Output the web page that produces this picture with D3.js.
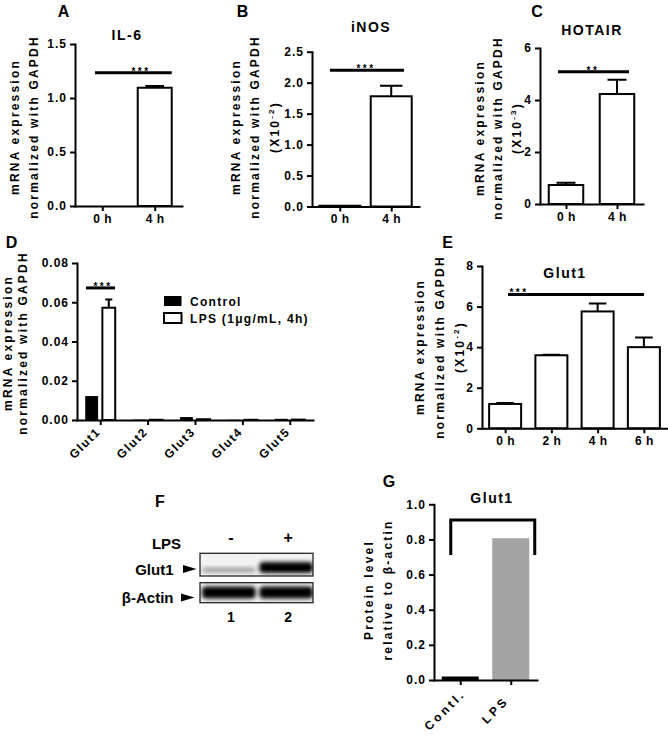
<!DOCTYPE html>
<html><head><meta charset="utf-8">
<script src="https://cdn.jsdelivr.net/npm/d3@7"></script>
<style>
body{margin:0;background:#fff}
svg text{font-family:"Liberation Sans",Arial,sans-serif;font-weight:bold;fill:#000}
</style></head><body>
<svg id="c" width="668" height="739"></svg>
<script>
// ---------------- DATA ----------------
const timeCats2 = ["0 h", "4 h"];
const il6Values = [0.0, 1.095];
const il6Errors = [0, 0.015];
const inosValues = [0.012, 1.78];
const inosErrors = [0, 0.17];
const hotairValues = [0.73, 4.23];
const hotairErrors = [0.09, 0.55];

const glutCats = ["Glut1", "Glut2", "Glut3", "Glut4", "Glut5"];
const seriesNames = ["Control", "LPS (1μg/mL, 4h)"];
const controlValues = [0.0122, 0.0002, 0.0015, 0.0001, 0.0006];
const lpsValues = [0.0572, 0.0001, 0.0004, 0.0001, 0.0002];
const lpsErrors = [0.0042, 0, 0, 0, 0];

const timeCats4 = ["0 h", "2 h", "4 h", "6 h"];
const glut1TimeValues = [1.2, 3.6, 5.76, 4.0];
const glut1TimeErrors = [0.05, 0.02, 0.39, 0.47];

const proteinCats = ["Contl.", "LPS"];
const proteinValues = [0.02, 0.807];

const blotLaneSigns = ["-", "+"];
const blotLaneNumbers = ["1", "2"];
const glut1BandIntensity = [0.35, 1.0];
const actinBandIntensity = [1.0, 1.0];

const ticksA = [0, 0.5, 1.0, 1.5];
const ticksB = [0, 0.5, 1.0, 1.5, 2.0, 2.5];
const ticksC = [0, 2, 4, 6];
const ticksD = [0, 0.02, 0.04, 0.06, 0.08];
const ticksE = [0, 2, 4, 6, 8];
const ticksG = [0, 0.2, 0.4, 0.6, 0.8, 1.0];

// ---------------- DRAW ----------------
const svg = d3.select("#c");
svg.append("rect").attr("width", 668).attr("height", 739).attr("fill", "#fff");
const FONT = '"Liberation Sans",Arial,sans-serif';

function txt(x, y, s, size, opts = {}) {
  const t = svg.append("text").attr("x", x).attr("y", y).text(s)
    .attr("font-size", size).attr("text-anchor", opts.anchor || "middle");
  if (opts.ls) t.style("letter-spacing", opts.ls + "px");
  if (opts.dy) t.attr("dy", opts.dy);
  return t;
}

function styleAxis(a, ls) {
  a.attr("font-family", null).attr("font-size", null);
  a.select(".domain").attr("stroke", "#000").attr("stroke-width", 2).attr("stroke-linecap", "square");
  a.selectAll(".tick line").attr("stroke", "#000").attr("stroke-width", 2);
  a.selectAll(".tick text").attr("font-size", 12).attr("fill", "#000")
    .style("letter-spacing", (ls == null ? 1 : ls) + "px");
}

function panel(o) {
  const x = d3.scalePoint().domain(o.cats).range([o.x0, o.x1]).padding(o.pad);
  const y = d3.scaleLinear().domain([0, o.max]).range([o.yB, o.yT]);
  const g = svg.append("g");
  const marks = g.append("g");
  const ya = g.append("g").attr("transform", `translate(${o.x0},0)`)
    .call(d3.axisLeft(y).tickValues(o.ticks).tickFormat(o.fmt).tickSize(5).tickSizeOuter(0).tickPadding(3));
  styleAxis(ya, 1);
  const xa = g.append("g").attr("transform", `translate(0,${o.yB})`)
    .call(d3.axisBottom(x).tickSize(5).tickSizeOuter(0).tickPadding(3));
  styleAxis(xa, o.xls == null ? 0.5 : o.xls);
  return { x, y, marks, xa };
}

function bars(p, cats, vals, errs, bw, offset, fill, stroke) {
  const data = cats.map((c, i) => ({ c, v: vals[i], e: errs ? errs[i] : 0 }));
  p.marks.selectAll(null).data(data.filter(d => d.v > 0)).join("rect")
    .attr("x", d => p.x(d.c) + offset - bw / 2)
    .attr("y", d => p.y(d.v))
    .attr("width", bw)
    .attr("height", d => p.y(0) - p.y(d.v))
    .attr("fill", fill)
    .attr("stroke", stroke || "none")
    .attr("stroke-width", stroke ? 2 : 0);
  const ed = data.filter(d => d.e > 0);
  const cap = bw * 0.55;
  p.marks.selectAll(null).data(ed).join("path")
    .attr("d", d => {
      const cx = p.x(d.c) + offset, y1 = p.y(d.v), y2 = p.y(d.v + d.e);
      return `M${cx},${y1}V${y2}M${cx - cap / 2},${y2}H${cx + cap / 2}`;
    })
    .attr("stroke", "#000").attr("stroke-width", 2).attr("fill", "none");
}

function sig(p, x1, x2, yv, stars, sx) {
  const yy = p.y(yv);
  p.marks.append("line").attr("x1", x1).attr("x2", x2).attr("y1", yy).attr("y2", yy)
    .attr("stroke", "#000").attr("stroke-width", 3);
  txt(sx, yy + 2, stars, 10, { ls: 2.5 });
}

function yLabel(lines, xs, cy) {
  lines.forEach((l, i) => {
    const t = svg.append("text")
      .attr("transform", `translate(${xs[i]},${cy}) rotate(-90)`)
      .attr("text-anchor", "middle").attr("dy", "0.35em")
      .attr("font-size", 12).style("letter-spacing", "2.2px");
    if (typeof l === "string") t.text(l);
    else {
      t.append("tspan").text(l[0]);
      t.append("tspan").text(l[1]).attr("font-size", 8).attr("dy", -5);
      t.append("tspan").text(l[2]).attr("dy", 5);
    }
  });
}

const f1 = d3.format(".1f"), f2 = d3.format(".2f"), fd = d3.format("d");

// ---- Panel A ----
txt(63.5, 16.7, "A", 16);
txt(127, 40, "IL-6", 14, { ls: 1.5 });
const pA = panel({ cats: timeCats2, x0: 75, x1: 182, pad: 0.52, yB: 206, yT: 44, max: 1.5, ticks: ticksA, fmt: f1 });
bars(pA, timeCats2, il6Values, il6Errors, 34, 0, "#fff", "#000");
sig(pA, 95, 171.7, 1.234, "***", 141);
yLabel(["mRNA expression", "normalized with GAPDH"], [15, 33.5], 127);

// ---- Panel B ----
txt(242.5, 16.7, "B", 16);
txt(371, 31.7, "iNOS", 14, { ls: 1.5 });
const pB = panel({ cats: timeCats2, x0: 312, x1: 419, pad: 0.54, yB: 206.5, yT: 51.7, max: 2.5, ticks: ticksB, fmt: f1 });
bars(pB, timeCats2, inosValues, inosErrors, 41, 0, "#fff", "#000");
sig(pB, 330, 404, 2.2, "***", 366);
yLabel(["mRNA expression", "normalized with GAPDH", ["(X10", "-2", ")"]], [236, 255, 275], 127);

// ---- Panel C ----
txt(537, 16.7, "C", 16);
txt(592, 35, "HOTAIR", 14, { ls: 1.5 });
const pC = panel({ cats: timeCats2, x0: 540, x1: 643, pad: 0.51, yB: 204, yT: 48, max: 6, ticks: ticksC, fmt: fd });
bars(pC, timeCats2, hotairValues, hotairErrors, 34.5, 0, "#fff", "#000");
sig(pC, 558, 629, 5.09, "**", 593);
yLabel(["mRNA expression", "normalized with GAPDH", ["(X10", "-3", ")"]], [480, 498, 517], 128);

// ---- Panel D ----
txt(11.5, 248.3, "D", 16);
const pD = panel({ cats: glutCats, x0: 77, x1: 313, pad: 0.49, yB: 420, yT: 263, max: 0.08, ticks: ticksD, fmt: f2 });
const sub = d3.scaleBand().domain(seriesNames).range([-15, 15]).paddingInner(0.25);
bars(pD, glutCats, controlValues, null, sub.bandwidth(), sub(seriesNames[0]) + sub.bandwidth() / 2, "#000", null);
bars(pD, glutCats, lpsValues, lpsErrors, sub.bandwidth(), sub(seriesNames[1]) + sub.bandwidth() / 2, "#fff", "#000");
sig(pD, 86, 115, 0.0673, "***", 103);
pD.xa.selectAll(".tick text")
  .attr("x", 0).attr("y", 0).attr("dy", "0.35em").attr("text-anchor", "middle")
  .attr("transform", "translate(-16,23) rotate(-45)").style("letter-spacing", "1.5px");
yLabel(["mRNA expression", "normalized with GAPDH"], [8, 23], 343);
// legend
const legY = [301, 318];
seriesNames.forEach((n, i) => {
  svg.append("rect").attr("x", 164).attr("y", legY[i] - 5).attr("width", 17.5).attr("height", 10)
    .attr("fill", i === 0 ? "#000" : "#fff").attr("stroke", "#000").attr("stroke-width", i === 0 ? 0 : 2);
  txt(190, legY[i] + 4.5, n, 12, { anchor: "start", ls: 1.3 });
});

// ---- Panel E ----
txt(447.5, 248.3, "E", 16);
txt(565, 278, "Glut1", 14, { ls: 1.5 });
const pE = panel({ cats: timeCats4, x0: 482, x1: 667, pad: 0.5, yB: 428.3, yT: 266, max: 8, ticks: ticksE, fmt: fd });
bars(pE, timeCats4, glut1TimeValues, glut1TimeErrors, 32, 0, "#fff", "#000");
sig(pE, 508, 644, 6.6, "***", 519);
yLabel(["mRNA expression", "normalized with GAPDH", ["(X10", "-2", ")"]], [420, 440, 460], 347);

// ---- Panel F (western blot) ----
txt(160, 506.7, "F", 16);
txt(166.5, 548.5, "LPS", 15);
const laneX = d3.scaleBand().domain(blotLaneNumbers).range([200, 313]).paddingInner(0.03);
blotLaneNumbers.forEach((n, i) => {
  const cx = laneX(n) + laneX.bandwidth() / 2;
  txt(cx + 3, 537, blotLaneSigns[i], 16, { dy: "0.35em" });
  txt(cx + 3, 621.5, n, 14);
});
const defs = svg.append("defs");
defs.append("filter").attr("id", "blur").attr("x", "-20%").attr("y", "-50%").attr("width", "140%").attr("height", "200%")
  .append("feGaussianBlur").attr("stdDeviation", 2);
const blotRows = [
  { name: "Glut1", y: 553.3, h: 22.7, inten: glut1BandIntensity, bh: [5, 11], bc: [570, 567.5], ty: 574.5, ax: 183 },
  { name: "β-Actin", y: 582.7, h: 20, inten: actinBandIntensity, bh: [12, 12], bc: [592.5, 592.5], ty: 603, ax: 181 }
];
blotRows.forEach((r, ri) => {
  const cp = defs.append("clipPath").attr("id", "clip" + ri);
  cp.append("rect").attr("x", 200).attr("y", r.y).attr("width", 113).attr("height", r.h);
  svg.append("rect").attr("x", 200).attr("y", r.y).attr("width", 113).attr("height", r.h).attr("fill", "#f2f2f2");
  const gb = svg.append("g").attr("clip-path", `url(#clip${ri})`);
  blotLaneNumbers.forEach((n, i) => {
    const col = d3.interpolateRgb("#f2f2f2", "#050505")(r.inten[i]);
    gb.append("rect").attr("x", laneX(n) + 2).attr("width", laneX.bandwidth() - 2)
      .attr("y", r.bc[i] - r.bh[i] / 2).attr("height", r.bh[i]).attr("rx", 4)
      .attr("fill", col).attr("filter", "url(#blur)");
  });
  svg.append("rect").attr("x", 200).attr("y", r.y).attr("width", 113).attr("height", r.h)
    .attr("fill", "none").attr("stroke", "#222").attr("stroke-width", 1.3);
  txt(173.5, r.ty, r.name, 15, { anchor: "end" });
  const cy = r.ty - 5.5;
  svg.append("path").attr("d", `M${r.ax},${cy - 4}L${r.ax + 13.5},${cy}L${r.ax},${cy + 4}Z`).attr("fill", "#000");
});

// ---- Panel G ----
txt(389, 486.7, "G", 16);
txt(492, 503, "Glut1", 14, { ls: 1.5 });
const pG = panel({ cats: proteinCats, x0: 434, x1: 537, pad: 0.52, yB: 680, yT: 504.3, max: 1.0, ticks: ticksG, fmt: f1 });
bars(pG, proteinCats.slice(0, 1), proteinValues.slice(0, 1), null, 37, 0, "#000", null);
bars(pG, proteinCats.slice(1), proteinValues.slice(1), null, 37, 0, "#a3a3a3", null);
{
  const xl = pG.x(proteinCats[0]) - 9.5, xr = pG.x(proteinCats[1]) + 24;
  const yt = pG.y(0.911), yb = pG.y(0.712);
  pG.marks.append("path").attr("d", `M${xl},${yb}V${yt}H${xr}V${yb}`)
    .attr("fill", "none").attr("stroke", "#000").attr("stroke-width", 3);
}
pG.xa.selectAll(".tick text")
  .attr("x", 0).attr("y", 0).attr("dy", "0.35em").attr("text-anchor", "middle")
  .attr("transform", "translate(-16,30) rotate(-45)").style("letter-spacing", "3px");
yLabel(["Protein level", "relative to β-actin"], [369, 388], 590);
</script>
</body></html>
